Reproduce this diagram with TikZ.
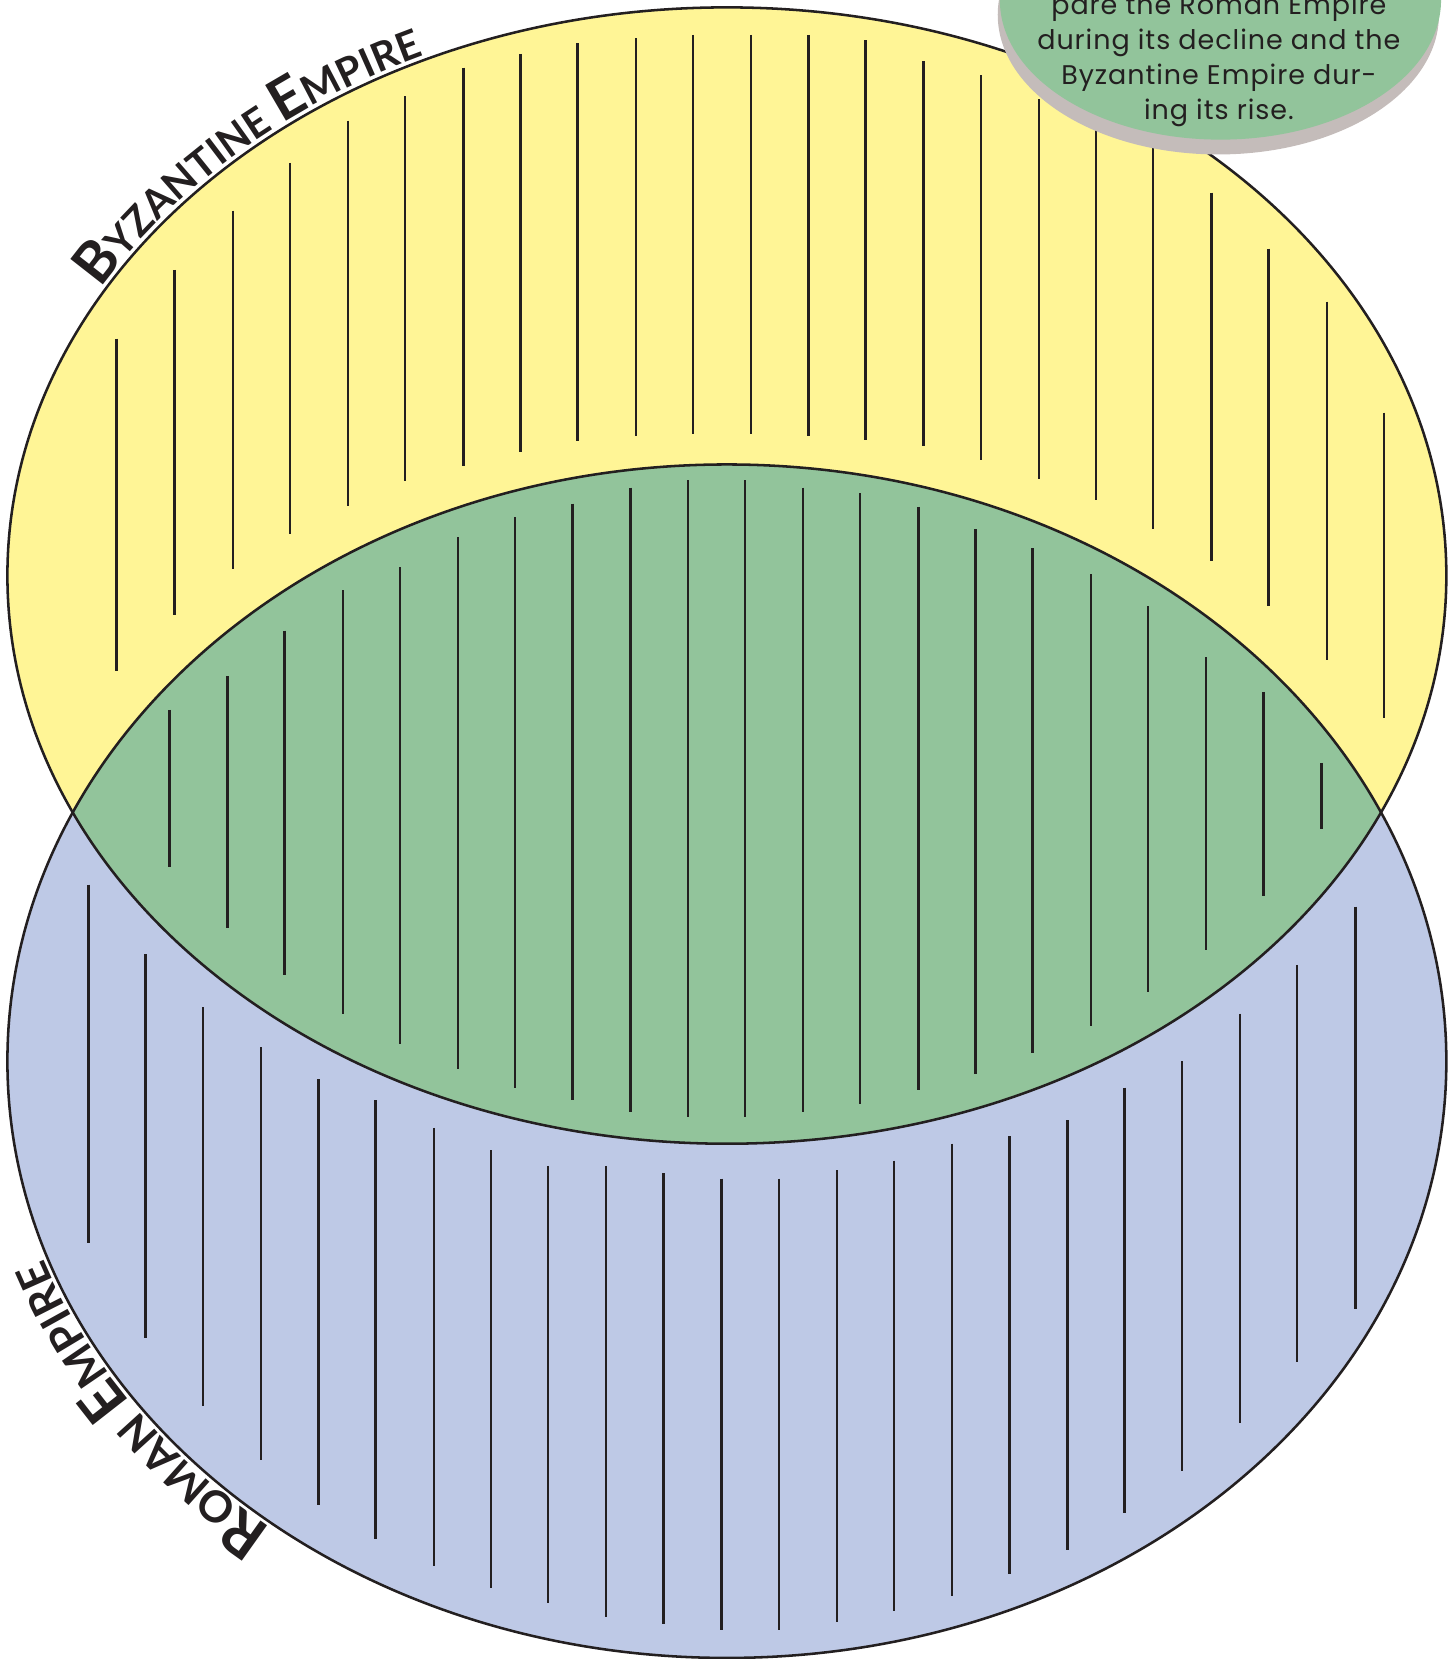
\documentclass[tikz,border=0pt]{standalone}
\usepackage{fontspec}
\setmainfont{Poppins}
\newfontfamily\labelfont{Lato}
\usetikzlibrary{decorations.text}
\definecolor{ylw}{RGB}{255,245,150}
\definecolor{grn}{RGB}{146,196,155}
\definecolor{blu}{RGB}{190,201,230}
\definecolor{shd}{RGB}{196,188,186}
\definecolor{ink}{RGB}{35,31,32}
\newcommand\BigLtr{\labelfont\bfseries\fontsize{54}{54}\selectfont}
\newcommand\SmLtr{\labelfont\bfseries\fontsize{38}{38}\selectfont}
\newcommand\BigLtrR{\labelfont\bfseries\fontsize{57}{57}\selectfont}
\newcommand\SmLtrR{\labelfont\bfseries\fontsize{41}{41}\selectfont}
\begin{document}
\begin{tikzpicture}[x=1pt,y=1pt,
  hatch/.style={draw=ink, line width=2.3pt},
  outline/.style={draw=ink, line width=2.4pt},
  bubbletext/.style={font=\fontsize{25.5}{33}\selectfont\addfontfeature{LetterSpace=3.5}, text=ink, anchor=base, inner sep=0pt},
  curvetext/.style={decorate, decoration={text along path, text color=ink, raise=2pt, text align=left}}]
\useasboundingbox (0,0) rectangle (1373,1568);
\clip (0,0) rectangle (1373,1568);
% regions
\fill[ylw] (687,1024) ellipse [x radius=680, y radius=537];
\fill[blu] (687,565) ellipse [x radius=680, y radius=564];
\begin{scope}
  \clip (687,1024) ellipse [x radius=680, y radius=537];
  \fill[grn] (687,565) ellipse [x radius=680, y radius=564];
\end{scope}
\draw[outline] (687,1024) ellipse [x radius=680, y radius=537];
\draw[outline] (687,565) ellipse [x radius=680, y radius=564];
% hatch lines, yellow
\foreach \x/\a/\b in {110/320/634,165/255/581,220/199/538,274/154/505,329/114/478,383/91/455,438/64/440,492/51/427,546/41/417,601/36/412,655/33/410,710/33/410,764/33/412,818/38/416,873/58/422,927/71/435,982/94/453,1036/110/473,1090/135/500,1145/182/530,1199/235/573,1254/285/624,1308/390/679}
  \draw[hatch] (\x,1568-\a) -- (\x,1568-\b);
% hatch lines, green
\foreach \x/\a/\b in {160/671/819,215/639/877,269/596/922,324/558/958,378/536/987,433/508/1010,487/489/1028,541/476/1040,596/461/1051,650/454/1056,704/454/1056,759/461/1051,813/466/1043,868/479/1030,922/500/1015,976/518/995,1031/543/970,1085/573/938,1140/621/898,1194/654/847,1249/721/784}
  \draw[hatch] (\x,1568-\a) -- (\x,1568-\b);
% hatch lines, blue
\foreach \x/\a/\b in {83.5/836/1175,137.6/902/1265,192/952/1329,246.6/990/1380,301/1020/1422,355/1040/1455,410/1066/1480,464/1087/1501,518/1102/1515,573/1102/1528,627/1109/1535,682/1114/1541,736/1114/1541,791/1106/1533,845/1097/1523,900/1081/1508,954/1074/1488,1009/1059/1465,1063/1028/1430,1117/1003/1390,1172/958/1345,1226/912/1287,1281/857/1237}
  \draw[hatch] (\x,1568-\a) -- (\x,1568-\b);
% curved titles
\path[curvetext, decoration={text={|\BigLtr|B|\SmLtr|YZANTINE |\BigLtr|E|\SmLtr|MPIRE}}]
  (687,1024) ++(150:682 and 539) arc[start angle=150, end angle=95, x radius=682, y radius=539];
\path[curvetext, decoration={text={|\BigLtrR|R|\SmLtrR|OMAN |\BigLtrR|E|\SmLtrR|MPIRE}}]
  (687,565) ++(231:682 and 566) arc[start angle=231, end angle=180, x radius=682, y radius=566];
% instruction bubble
\fill[shd] (1151.5,1554) ellipse [x radius=208.5, y radius=132];
\fill[grn] (1153.5,1568) ellipse [x radius=208.5, y radius=132];
\node[bubbletext] (l1) at (1152,1554) {pare the Roman Empire};
\node[bubbletext] (l2) at (1152,1521) {during its decline and the};
\node[bubbletext] (l3) at (1152,1488) {Byzantine Empire dur-};
\node[bubbletext] (l4) at (1152,1455) {ing its rise.};
\end{tikzpicture}
\end{document}
